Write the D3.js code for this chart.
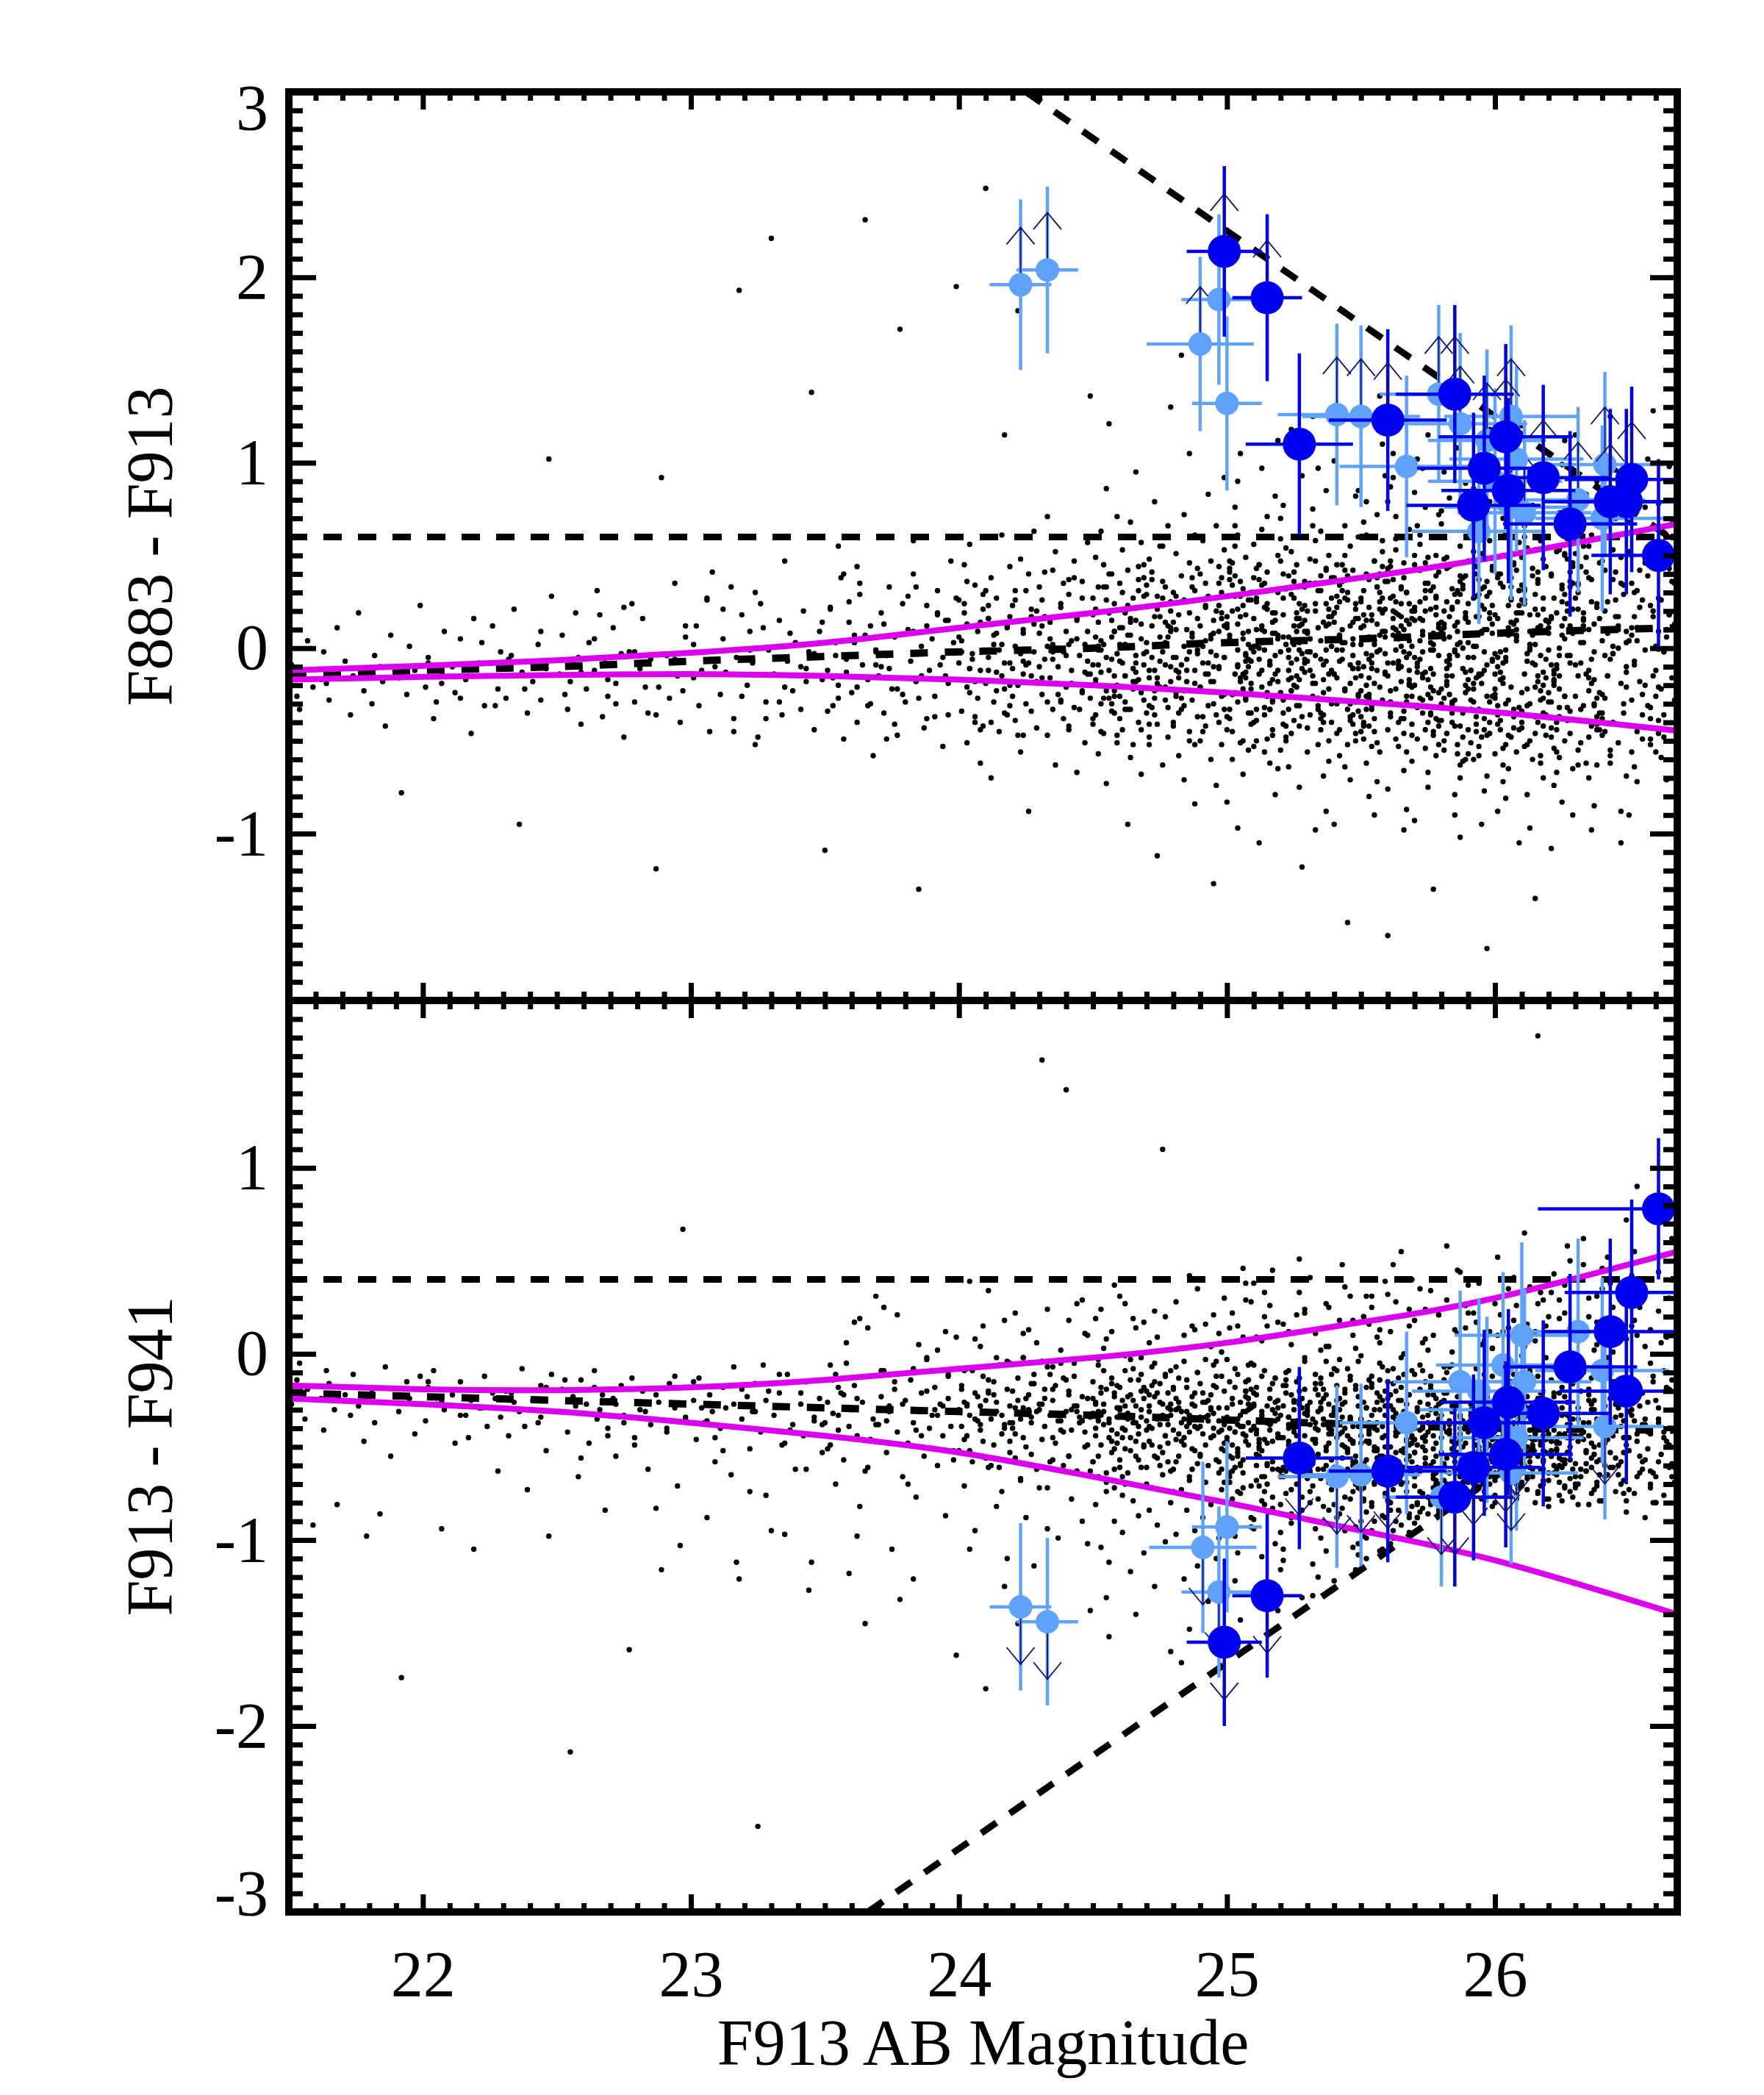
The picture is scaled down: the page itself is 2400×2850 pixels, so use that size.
<!DOCTYPE html>
<html>
<head>
<meta charset="utf-8">
<script src="https://cdn.jsdelivr.net/npm/d3@7"></script>
<style>
  body { margin: 0; background: #fff; }
</style>
</head>
<body>
<div id="chart"></div>
<script>
// Field sources: [F913 mag, F883-F913, F913-F941] (thinned)
const field = [
  [21.51,-.09,-.27],[21.53,-.26,-.14],[21.56,-.12,-.35],[21.57,.04,-.19],[21.59,-.21,-.92],[21.54,-.33,-.05],
  [21.62,-.17,-.24],[21.63,-.02,-.41],[21.65,-.28,-.16],[21.67,-.11,-.30],[21.68,.11,-.81],[21.64,-.19,-.09],
  [21.71,-.07,-.22],[21.73,-.36,-.33],[21.74,-.15,-.11],[21.76,.19,-.28],[21.78,-.23,-.47],[21.79,-.13,-.98],
  [21.81,-.30,-.19],[21.82,-.04,-.37],[21.85,-.18,-.26],[21.86,-.42,-.07],[21.88,.07,-.55],[21.84,-.10,-.86],
  [21.91,-.16,-.31],[21.92,-.78,-1.74],[21.94,-.25,-.15],[21.95,.01,-.24],[21.97,-.12,-.43],[21.99,.23,-.12],
  [22.01,-.21,-.36],[22.02,-.05,-.18],[22.05,-.29,-.27],[22.07,-.14,-.94],[22.08,.09,-.30],[22.04,-.38,-.09],
  [22.11,-.10,-.22],[22.12,-.24,-.48],[22.14,.05,-.15],[22.16,-.17,-.33],[22.18,-.46,-.25],[22.19,.16,-1.05],
  [22.21,-.08,-.29],[22.23,-.31,-.12],[22.24,-.15,-.39],[22.26,.12,-.21],[22.28,-.22,-.63],[22.29,-.02,-.34],
  [22.31,-.27,-.20],[22.32,-.06,-.44],[22.34,.21,-.26],[22.36,-.95,-.31],[22.37,-.13,-.08],[22.39,-.35,-.73],
  [22.41,-.18,-.25],[22.43,.02,-.37],[22.44,-.28,-.17],[22.46,-.09,-.52],[22.47,1.02,-.98],[22.48,.28,-.11],
  [22.51,-.14,-.31],[22.52,.07,-.19],[22.54,-.33,-.42],[22.55,-.18,-2.14],[22.57,.19,-.28],[22.58,-.05,-.66],[22.59,-.41,-.14],
  [22.61,-.22,-.27],[22.62,.03,-.48],[22.64,-.12,-.09],[22.65,.31,-.35],[22.67,-.37,-.22],[22.68,-.08,-.84],[22.69,-.26,-.40],
  [22.71,.11,-.24],[22.72,-.19,-.55],[22.74,-.03,-.17],[22.75,-.48,-.33],[22.77,-.02,-1.59],[22.78,.24,-.13],[22.79,-.29,-.45],
  [22.81,-.11,-.30],[22.82,.16,-.20],[22.84,-.35,-.62],[22.85,-.06,-.38],[22.87,-1.19,-.83],[22.88,-.21,-.26],[22.89,.92,-1.16],
  [22.91,-.04,-.42],[22.92,-.27,-.16],[22.94,.35,-.29],[22.95,-.15,-.71],[22.97,-.23,.67],[22.98,.06,-.34],[22.96,-.40,-1.03],
  [23.01,-.16,-.25],[23.02,.12,-.46],[23.03,-.31,-.13],[23.05,-.02,-.37],[23.06,.27,-.88],[23.07,-.45,-.22],[23.09,-.10,-.58],[23.08,.41,-.31],
  [23.11,-.25,-.40],[23.12,.05,-.18],[23.13,-.13,-.29],[23.15,.33,-.65],[23.16,-.38,-.07],[23.17,-.05,-1.12],[23.18,1.93,-1.21],[23.19,.18,-.35],
  [23.21,-.20,-.23],[23.22,.09,-.51],[23.23,-.08,-.31],[23.24,-.52,-.16],[23.25,-.48,-2.54],[23.26,.24,-.42],[23.28,-.29,-.76],[23.29,-.01,-.20],
  [23.30,2.21,-.95],[23.31,-.14,-.33],[23.33,.15,-.21],[23.34,-.36,-.49],[23.35,.47,-.97],[23.36,-.07,-.11],[23.38,-.23,-.38],[23.39,.03,-.62],
  [23.41,-.33,-.27],[23.42,.20,-.44],[23.43,-.11,-.15],[23.44,-.02,-1.27],[23.45,1.38,-1.12],[23.46,-.44,-.36],[23.48,.09,-.24],[23.49,-.17,-.53],
  [23.50,-1.09,-.37],[23.51,-.12,-.26],[23.52,.21,-.49],[23.53,-.31,-.14],[23.54,.03,-.70],[23.55,-.20,-.33],[23.56,.38,-.21],[23.57,-.49,-.57],[23.58,-.06,-.05],[23.59,.14,-1.18],[23.55,.55,-.41],
  [23.60,-.24,-.30],[23.61,.07,-.17],[23.62,-.40,-.44],[23.63,.29,-.82],[23.64,-.09,-.26],[23.65,2.31,-1.45],[23.66,-.17,-.61],[23.67,.12,-.12],[23.68,-.58,-.35],[23.69,-.01,-.47],[23.62,.44,-.98],
  [23.70,-.15,-.38],[23.71,.19,-.23],[23.72,-.35,-.09],[23.73,-.04,-.53],[23.74,.33,-.31],[23.75,-.22,-1.05],[23.76,.06,-.19],[23.77,-.47,-.42],[23.78,1.72,-1.32],[23.79,.24,-.66],[23.74,-.11,-.28],
  [23.80,-.29,-.25],[23.81,.10,-.48],[23.82,-.07,-.14],[23.83,.40,-.37],[23.84,-.18,-.77],[23.85,-1.30,-.31],[23.86,.01,-.21],[23.87,-.43,-.55],[23.88,.23,-.02],[23.89,-.12,-.40],[23.83,.58,-1.21],
  [23.90,.05,-.33],[23.91,-.26,-.18],[23.92,.31,-.60],[23.93,-.09,-.27],[23.94,-.53,-.44],[23.95,.15,-.87],[23.96,-.19,-.11],[23.97,.47,-.39],[23.98,-.02,-.52],[23.99,1.95,-1.62],[23.96,-.36,-.24],
  [24.00,-.08,-.30],[24.00,.26,-.52],[24.01,-.34,-.17],[24.01,.04,-.39],[24.02,-.17,-.71],[24.02,.45,-.26],[24.03,-.51,-.44],[24.03,.13,-.08],[24.04,.56,-1.05],[24.04,-.24,-.33],[24.05,-.03,-.58],[24.06,.34,-.21],[24.06,-.40,-.95],[24.07,.09,-.36],[24.08,-.62,-.28],[24.08,-.12,.04],[24.09,.21,-.47],[24.10,2.48,-1.80],
  [24.10,-.19,-.25],[24.11,.16,-.61],[24.11,-.05,-.14],[24.12,-.70,-.60],[24.12,.38,-.35],[24.13,-.29,-.49],[24.13,.07,-.22],[24.14,-.13,-.82],[24.14,.27,-.31],[24.15,-.45,-.06],[24.16,.02,-.43],[24.16,.61,-.74],[24.17,1.15,-1.25],[24.17,-.22,-.38],[24.18,.12,-.19],[24.18,-.36,-1.10],[24.19,-.08,-.53],[24.19,.44,-.28],
  [24.20,-.11,-.40],[24.20,.23,-.20],[24.21,-.39,-.56],[24.21,.01,-.29],[24.22,1.82,-1.45],[24.22,-.20,-.13],[24.23,.48,-.67],[24.23,-.56,-.35],[24.24,.10,-.45],[24.24,-.07,-.02],[24.25,.31,-.88],[24.25,-.30,-.24],[24.26,-.88,-.30],[24.27,.17,-.54],[24.27,-.15,-.37],[24.28,.63,-1.14],[24.28,-.02,-.16],[24.29,-.43,-.62],
  [24.30,.08,-.27],[24.31,.26,1.58],[24.31,-.25,-.46],[24.32,-.06,-.19],[24.32,.41,-.39],[24.33,-.47,-.72],[24.33,.71,-.94],[24.34,.14,-.11],[24.34,-.16,-.33],[24.35,-.33,-.57],[24.35,.02,-.25],[24.36,.52,-.48],[24.36,-.63,-.17],[24.37,-.10,-.99],[24.38,.22,-.36],[24.38,-.28,-.05],[24.39,.35,-.60],[24.39,-.02,-.42],
  [24.40,.09,1.42],[24.40,-.21,-.31],[24.41,.29,-.55],[24.41,-.44,-.20],[24.42,.04,-.41],[24.42,-.12,-.78],[24.43,.47,-.28],[24.43,-.32,-.12],[24.44,-.67,-.31],[24.44,.16,-.63],[24.45,-.04,-.37],[24.46,.36,-.90],[24.46,-.23,-.23],[24.47,.02,.11],[24.47,-.51,-.50],[24.48,.57,-1.02],[24.49,1.36,-1.38],[24.49,-.14,-.34],
  [24.50,-.09,-.32],[24.50,.27,-.58],[24.50,-.38,-.15],[24.51,.06,-.44],[24.51,-.19,-.27],[24.51,.49,-.81],[24.52,-.57,-.36],[24.52,.14,-.06],[24.52,-.01,-.66],[24.53,-.30,-.21],
  [24.53,.63,-1.04],[24.53,-.13,-.49],[24.54,.33,-.31],[24.54,-.46,.03],[24.54,.02,-.38],[24.55,-.23,-.74],[24.55,.86,-1.31],[24.55,-.73,-.19],[24.56,1.21,-1.52],[24.56,.19,-.45],
  [24.57,-.06,-.53],[24.57,.40,-.13],[24.57,-.34,-.41],[24.58,.09,-.90],[24.58,-.15,-.23],[24.58,.24,-.62],[24.59,-.51,-.34],[24.59,.71,-.17],[24.59,-.03,-.48],[24.56,-.27,-1.12],
  [24.60,.11,-.29],[24.60,-.26,-.57],[24.60,.35,-.18],[24.61,-.08,-.40],[24.61,.53,-.96],[24.61,-.44,-.25],[24.62,.20,-.70],[24.62,-.15,-.09],[24.62,.02,-.51],[24.63,-.95,-.35],
  [24.63,.42,-.33],[24.63,-.33,-.64],[24.64,.07,-.22],[24.64,-.59,-.45],[24.64,.68,-1.17],[24.65,-.11,.19],[24.65,.27,-.79],[24.65,-.22,-.37],[24.66,.95,-1.40],[24.66,-.04,-.28],
  [24.66,.15,-.55],[24.67,-.40,-.14],[24.67,.31,-.43],[24.67,-.17,-.87],[24.68,.57,-.61],[24.68,-.68,-.30],[24.68,.05,-.02],[24.69,-.28,-.49],[24.69,.38,-.24],[24.69,-.09,-1.07],
  [24.70,.03,-.36],[24.70,-.35,-.61],[24.70,.29,-.20],[24.71,-.16,-.47],[24.71,.48,-.84],[24.71,-.52,-.31],[24.72,.12,-.07],[24.72,-.05,-.72],[24.72,.37,-.40],[24.73,-.27,-.23],
  [24.73,.79,-1.25],[24.73,-.12,-.55],[24.74,.21,-.34],[24.74,-1.12,-.21],[24.74,-.41,-.92],[24.75,.06,-.16],[24.75,.55,-.50],[24.75,-.21,-.38],[24.76,.55,1.10],[24.76,-.02,-.65],
  [24.76,-.63,-.27],[24.77,.33,-1.01],[24.77,-.09,-.44],[24.77,.14,-.11],[24.78,-.32,-.58],[24.78,.66,-.29],[24.78,-.48,-.48],[24.79,1.30,-1.60],[24.79,.09,-.33],[24.79,-.18,-.80],
  [24.80,-.05,-.41],[24.80,.30,-.19],[24.80,-.42,-.62],[24.81,.10,-.30],[24.81,-.24,-.97],[24.81,.51,-.46],[24.82,-.58,-.13],[24.82,.18,-.55],[24.82,-.13,-.26],[24.83,1.58,-1.66],
  [24.83,.39,-.73],[24.83,-.33,-.37],[24.84,.01,-.04],[24.84,.72,-1.21],[24.84,-.71,-.49],[24.85,-.18,-.31],[24.85,.25,-.84],[24.85,-.06,-.18],[24.86,.46,-.42],[24.86,-.50,-.68],
  [24.86,1.05,-1.48],[24.87,.08,-.23],[24.87,-.28,-.51],[24.87,.33,.15],[24.88,-.12,-.39],[24.88,-.84,-.28],[24.88,.61,-.95],[24.89,.16,-.59],[24.89,-.37,-.10],[24.89,-.01,-1.14],
  [24.90,.12,-.34],[24.90,-.21,-.54],[24.90,.40,-.16],[24.91,-.08,-.43],[24.91,.58,-.88],[24.91,-.45,-.26],[24.92,.22,-.69],[24.92,-.14,-.03],[24.92,.04,-.49],[24.93,-.31,-.36],
  [24.93,.83,-1.33],[24.93,.28,-.60],[24.94,-.60,-.22],[24.94,-.02,-.81],[24.94,.47,-.45],[24.95,-.18,.21],[24.95,.15,-.32],[24.95,-1.27,-.40],[24.96,-.74,-.57],[24.96,.66,-1.10],
  [24.96,-.36,-.18],[24.97,.09,-.64],[24.97,-.10,-.29],[24.97,.35,-.99],[24.98,-.52,-.41],[24.98,.19,-.12],[24.98,-.26,-.73],[24.99,.53,-.38],[24.99,-.05,-.52],[24.99,.92,-1.24],
  [25.07,-.07,-.31],[25.02,.34,-.63],[25.09,-.41,-.19],[25.00,.11,-.47],[25.05,-.16,-.75],[25.03,.55,-.98],[25.08,-.55,-.14],[25.01,.05,-.40],[25.06,.23,.09],[25.04,-.29,-.55],
  [25.03,.76,-1.22],[25.08,-.10,-.27],[25.01,.41,-.69],[25.06,-.68,-.43],[25.00,.17,-.34],[25.09,-.22,-.88],[25.04,.61,-1.07],[25.07,-.03,-.20],[25.02,-.45,-.49],[25.05,.28,-.59],
  [25.05,1.05,-1.43],[25.00,-.83,-.03],[25.06,.08,-.64],[25.09,-.35,.28],[25.02,.20,-.24],[25.07,-.13,-.44],[25.01,.47,-.80],[25.04,-.97,-.35],[25.08,.02,-.37],[25.03,-.24,-.61],
  [25.01,.37,-.15],[25.06,-.50,-.72],[25.04,.13,-.51],[25.08,-.06,-.06],[25.03,.66,-.42],[25.00,-.37,-.29],[25.09,.26,-.93],[25.05,-.18,-.39],[25.07,.49,-.23],[25.02,-.60,-.56],[25.04,.90,-.74],[25.07,-.27,.38],
  [25.19,.07,-.35],[25.14,-.32,-.66],[25.10,.38,-.21],[25.12,-.14,-.50],[25.17,.19,-.83],[25.15,-.49,-.28],[25.13,.64,-1.09],[25.18,-.04,-.13],[25.11,.25,-.54],[25.16,-.62,-.38],
  [25.12,.00,-.71],[25.19,.50,-.43],[25.15,-.26,.15],[25.17,.14,-.30],[25.11,-.39,-.60],[25.18,.82,-1.26],[25.16,-.09,-.24],[25.10,.30,-.94],[25.14,-.56,-.46],[25.13,.10,-.12],
  [25.16,-.19,-.41],[25.11,.43,-.68],[25.18,-.79,-.26],[25.13,.03,-.52],[25.19,1.12,-1.38],[25.14,-.01,.33],[25.10,.56,-.89],[25.12,-1.05,-.55],[25.15,.21,-.37],[25.17,-.28,-.77],
  [25.14,.35,-.09],[25.17,-.44,-.47],[25.13,-.12,-.33],[25.15,.71,-.60],[25.18,.08,-1.02],[25.11,-.33,-.18],[25.12,.45,-.48],[25.19,-.65,-.62],[25.10,.16,-.27],[25.16,-.07,-.85],[25.13,.97,-.79],[25.17,-.17,.45],
  [25.28,-.11,-.29],[25.25,.27,-.57],[25.22,-.42,-.17],[25.21,.06,-.45],[25.24,.52,-.91],[25.26,-.21,-.70],[25.27,.16,-.25],[25.23,-.64,-.38],[25.29,.36,-.04],[25.20,-.02,-.63],
  [25.20,.70,-1.16],[25.23,-.33,-.49],[25.27,.12,-.20],[25.24,-.16,-.86],[25.26,.45,-.39],[25.22,-.50,-.10],[25.25,.02,-.53],[25.29,.23,-.32],[25.21,-.28,-.66],[25.28,.93,-1.31],
  [25.27,-.75,-.27],[25.22,.32,-.75],[25.29,-.08,.22],[25.20,.59,-.96],[25.25,-.39,-.42],[25.23,-.01,-.34],[25.28,-1.18,-.59],[25.21,.77,-1.11],[25.26,.19,-.15],[25.24,-.23,-.51],
  [25.25,.41,-.26],[25.20,-.55,-.81],[25.26,.09,-.44],[25.29,-.13,-.02],[25.22,.54,-.63],[25.27,-.31,-.36],[25.21,.27,-1.05],[25.24,-.46,-.22],[25.28,.13,-.57],[25.23,-.05,-.40],[25.24,1.18,-.88],[25.27,.03,.51],
  [25.31,.05,-.38],[25.36,-.36,-.62],[25.34,.31,-.22],[25.38,-.14,-.48],[25.33,.58,-.94],[25.30,-.56,-.30],[25.39,.17,-.73],[25.35,-.06,-.13],[25.37,.42,-.52],[25.32,-.26,-.35],
  [25.32,.75,-1.13],[25.39,.01,-.43],[25.35,-.44,-.67],[25.37,.24,.04],[25.31,-.12,-.56],[25.38,.50,-.84],[25.36,-.69,-.24],[25.30,.09,-.33],[25.34,-.31,-.78],[25.33,.35,-.46],
  [25.34,.97,-1.20],[25.37,-.88,-.50],[25.33,-.19,-.19],[25.35,.63,-.99],[25.38,.13,.25],[25.31,-.02,-.64],[25.32,1.25,-1.30],[25.39,-.40,-.41],[25.30,.20,-.28],[25.36,-.24,-.90],
  [25.39,.38,-.11],[25.34,-.52,-.54],[25.30,-.07,-.31],[25.32,.66,-.71],[25.37,.12,-1.06],[25.35,-.35,-.16],[25.33,.47,-.40],[25.38,-.61,-.69],[25.31,.05,-.26],[25.36,-.17,-.82],[25.33,-.98,-.37],[25.37,.85,-.60],
  [25.46,-.09,-.35],[25.41,.28,-.66],[25.48,-.46,-.19],[25.43,.10,-.49],[25.49,.60,-1.02],[25.44,-.22,-.77],[25.40,.19,-.29],[25.42,-.58,-.43],[25.45,.39,-.08],[25.47,-.04,-.58],
  [25.48,.82,-1.16],[25.45,-.33,-.51],[25.42,.07,-.24],[25.41,-.16,-.88],[25.44,.50,-.40],[25.46,-.71,-.14],[25.47,.14,-.60],[25.43,.31,-.34],[25.49,-.25,-.72],[25.40,1.01,-1.22],
  [25.40,-.95,-.31],[25.43,.45,-.83],[25.47,-.11,.18],[25.44,.66,-.95],[25.46,-.39,-.46],[25.42,.04,-.38],[25.45,-1.48,-.62],[25.49,.85,-1.08],[25.41,.22,-.17],[25.48,-.29,-.55],
  [25.43,.36,-.27],[25.48,-.50,-.93],[25.41,-.01,-.45],[25.46,.55,-.12],[25.40,-.14,-.67],[25.49,.16,-.39],[25.44,-.64,-.26],[25.47,.42,-.74],[25.42,-.07,-.03],[25.45,.26,-.52],[25.43,.03,.48],[25.47,-.36,-1.04],
  [25.55,.02,-.40],[25.50,-.37,-.67],[25.56,.33,-.21],[25.59,-.13,-.50],[25.52,.61,-.99],[25.57,-.56,-.30],[25.51,.18,-.78],[25.54,-.04,-.12],[25.58,.44,-.55],[25.53,-.27,-.38],
  [25.52,.79,-1.10],[25.59,.06,-.44],[25.55,-.45,-.70],[25.57,.25,.06],[25.51,-.10,-.59],[25.58,.52,-.87],[25.56,-.72,-.26],[25.50,.11,-.35],[25.54,-.31,-.82],[25.53,.37,-.47],
  [25.58,1.10,-1.05],[25.55,-.90,-.52],[25.52,-.20,-.18],[25.51,.68,-.98],[25.54,.15,.31],[25.56,-.02,-.64],[25.57,1.36,-1.06],[25.53,-.42,-.43],[25.59,.21,-.28],[25.50,-.15,-.90],
  [25.57,.30,-.14],[25.52,-.62,-.57],[25.59,.09,-.33],[25.50,-.23,-.01],[25.55,.47,-.62],[25.53,-.06,-.48],[25.58,.58,-.25],[25.51,-.49,-.79],[25.56,.13,-.41],[25.54,-.33,-.16],
  [25.50,.27,-.73],[25.53,-.80,-.37],[25.57,.40,-.05],[25.54,-.11,-.95],[25.56,.72,-.51],[25.52,-.26,-.29],[25.55,.04,-.69],[25.59,.93,-.88],[25.51,-.40,.20],[25.58,.19,-.45],
  [25.64,-.07,-.37],[25.67,.30,-.69],[25.63,-.49,-.20],[25.65,.12,-.52],[25.68,.64,-.96],[25.61,-.23,-.80],[25.62,.20,-.30],[25.69,-.61,-.45],[25.60,.41,-.09],[25.66,-.02,-.61],
  [25.61,.87,-1.02],[25.66,-.34,-.53],[25.64,.08,-.25],[25.68,-.17,-.86],[25.63,.53,-.42],[25.60,-.76,-.15],[25.69,.16,-.63],[25.65,.33,-.35],[25.67,-.26,-.74],[25.62,1.05,-.99],
  [25.66,-.98,-.33],[25.61,.47,-.84],[25.68,-.12,.24],[25.63,.71,-.90],[25.69,-.41,-.48],[25.64,.05,-.40],[25.60,-1.55,-.65],[25.62,.92,-.95],[25.65,.24,-.18],[25.67,-.29,-.27],
  [25.69,.01,.40],[25.64,-.53,-.58],[25.60,.36,-.78],[25.62,-.08,-.08],[25.67,.15,-.47],[25.65,-.38,-.92],[25.63,.59,-.32],[25.68,-.19,-.55],[25.61,.27,.12],[25.66,-.66,-.39],
  [25.63,.10,-.67],[25.68,-.03,-.22],[25.61,.44,-.50],[25.66,-.46,-.11],[25.60,.79,-.71],[25.69,-.21,-.44],[25.64,.18,-.84],[25.67,-.87,-.27],[25.62,.37,-.60],[25.65,-.10,.55],
  [25.72,.04,-.41],[25.79,-.39,-.70],[25.75,.35,-.22],[25.77,-.14,-.51],[25.71,.66,-.88],[25.78,-.58,-.32],[25.76,.21,-.79],[25.70,-.05,-.11],[25.74,.46,-.56],[25.73,-.28,-.39],
  [25.70,.84,-.91],[25.73,.07,-.45],[25.77,-.47,-.72],[25.74,.27,.08],[25.76,-.11,-.60],[25.72,.56,-.85],[25.75,-.75,-.27],[25.79,.13,-.36],[25.71,-.32,-.81],[25.78,.39,-.48],
  [25.75,1.15,-.86],[25.70,-.93,-.53],[25.76,-.21,-.19],[25.79,.72,-.84],[25.72,.16,.35],[25.77,-.01,-.65],[25.71,1.02,-.80],[25.74,-.44,-.44],[25.78,.22,-.29],[25.73,-.16,-.83],
  [25.74,.31,-.15],[25.77,-1.30,-.58],[25.73,.09,-.34],[25.75,-.25,.02],[25.78,.50,-.64],[25.71,-.08,-.49],[25.72,.61,-.26],[25.79,-.52,-.76],[25.70,.15,-.40],[25.76,-.35,-.17],
  [25.78,.28,-.70],[25.75,-.67,-.37],[25.72,.42,-.06],[25.71,-.13,-.88],[25.74,.76,-.52],[25.76,-.27,-.30],[25.77,.02,-.67],[25.73,.97,-.75],[25.79,-.42,.21],[25.70,.20,-.46],
  [25.83,-.06,-.38],[25.88,.32,-.70],[25.81,-.50,-.21],[25.86,.14,-.53],[25.80,.67,-.82],[25.89,-.24,-.78],[25.84,.22,-.31],[25.87,-.63,-.46],[25.82,.43,-.10],[25.85,-.01,-.62],
  [25.89,.89,-.80],[25.84,-.35,-.54],[25.80,.09,-.26],[25.82,-.18,-.79],[25.87,.55,-.43],[25.85,-.79,-.16],[25.83,.17,-.64],[25.88,.34,-.36],[25.81,-.27,-.75],[25.86,1.08,-.77],
  [25.87,-1.02,-.34],[25.82,.49,-.76],[25.89,-.13,.26],[25.80,.74,-.74],[25.85,-.42,-.49],[25.83,.06,-.41],[25.88,-.61,-.66],[25.81,.95,-.73],[25.86,.25,-.19],[25.84,-.30,-.28],
  [25.86,.02,.45],[25.81,-.55,-.59],[25.88,.38,-.69],[25.83,-.09,-.07],[25.89,.16,-.48],[25.84,-.40,-.80],[25.80,.60,-.33],[25.82,-.20,-.56],[25.85,.29,.13],[25.87,-.70,-.40],
  [25.81,.11,-.68],[25.86,-.04,-.23],[25.84,.45,-.51],[25.88,-.48,-.12],[25.83,.81,-.64],[25.80,-.22,-.45],[25.89,.19,-.77],[25.85,-.90,-.28],[25.87,.39,-.61],[25.82,-.11,.58],
  [25.90,.03,-.42],[25.93,-.41,-.71],[25.97,.36,-.23],[25.94,-.15,-.52],[25.96,.69,-.74],[25.92,-.60,-.33],[25.95,.23,-.70],[25.99,-.07,-.12],[25.91,.47,-.57],[25.98,-.29,-.40],
  [25.92,.86,-.70],[25.99,.08,-.46],[25.95,-.48,-.68],[25.97,.28,.10],[25.91,-.12,-.61],[25.98,.58,-.66],[25.96,-.77,-.28],[25.90,.14,-.37],[25.94,-.33,-.65],[25.93,.40,-.49],
  [25.98,1.18,-.62],[25.95,-.95,-.54],[25.92,-.22,-.20],[25.91,.75,-.63],[25.94,.17,.38],[25.96,-.02,-.66],[25.97,-1.62,-.45],[25.93,-.45,-.45],[25.99,.23,-.30],[25.90,-.17,-.69],
  [25.95,.32,-.16],[25.90,-.57,-.59],[25.96,.10,-.35],[25.99,-.26,.03],[25.92,.52,-.55],[25.97,-.09,-.50],[25.91,.63,-.27],[25.94,-.53,-.72],[25.98,.16,-.41],[25.93,-.37,-.18],
  [25.94,.29,-.64],[25.97,-.69,-.38],[25.93,.44,-.07],[25.95,-.14,-.70],[25.98,.79,-.49],[25.91,-.28,-.31],[25.92,.01,-.62],[25.99,1.00,-.58],[25.90,-.44,.22],[25.96,.21,-.47],
  [26.01,-.05,-.39],[26.06,.33,-.62],[26.04,-.52,-.22],[26.08,.15,-.54],[26.03,.70,-.55],[26.00,-.25,-.60],[26.09,.23,-.32],[26.05,-.65,-.47],[26.07,.45,-.11],[26.02,-.02,-.63],
  [26.06,.92,-.48],[26.01,-.36,-.55],[26.08,.10,-.27],[26.03,-.19,-.66],[26.09,.57,-.44],[26.04,-.81,-.17],[26.00,.18,-.64],[26.02,.35,-.37],[26.05,-.28,-.58],[26.07,1.10,-.52],
  [26.09,-1.05,-.35],[26.04,.50,-.60],[26.00,-.14,.27],[26.02,.76,-.57],[26.07,-.43,-.50],[26.05,.07,-.42],[26.03,-.63,-.61],[26.08,.97,-.50],[26.01,-.31,.52],[26.06,.26,-.20],
  [26.08,.04,-.70],[26.05,-.47,-.29],[26.02,.40,-.05],[26.01,-.10,-.48],[26.04,.62,-.36],[26.06,-.21,-.74],[26.07,.13,.18],[26.03,-.72,-.42],[26.09,.31,-.60],[26.00,-.03,-.25],
  [26.07,.83,-.67],[26.02,-.39,-.09],[26.09,.19,-.51],[26.00,-.57,-.68],[26.05,.49,.35],[26.03,-.16,-.33],[26.08,.06,-.78],[26.01,-.88,-.45],[26.06,.38,-.15],[26.04,-.07,-.56],
  [26.15,.02,-.43],[26.10,-.43,-.64],[26.16,.37,-.24],[26.19,-.16,-.53],[26.12,.72,-.50],[26.17,-.62,-.34],[26.11,.24,-.60],[26.14,-.08,-.13],[26.18,.48,-.58],[26.13,-.30,-.41],
  [26.14,.88,-.46],[26.17,.09,-.47],[26.13,-.50,-.61],[26.15,.29,.12],[26.18,-.13,-.62],[26.11,.60,-.52],[26.12,-.79,-.29],[26.19,.15,-.38],[26.10,-.34,-.56],[26.16,.41,1.71],
  [26.10,1.20,-.45],[26.13,-.97,-.55],[26.17,-.23,-.21],[26.14,.77,-.49],[26.16,.18,.40],[26.12,-.03,-.67],[26.15,-1.35,-.46],[26.19,-.47,-.46],[26.11,.31,.65],[26.18,-.20,-.31],
  [26.12,.54,-.73],[26.19,-.06,-.02],[26.15,.21,-.39],[26.17,-.58,-.71],[26.11,.66,-.19],[26.18,-.27,-.52],[26.16,.11,.27],[26.10,-.40,-.36],[26.14,.43,-.66],[26.13,-.01,-.10],
  [26.13,.95,-.58],[26.18,-.70,-.44],[26.11,.26,.04],[26.16,-.15,-.75],[26.10,.34,-.28],[26.19,-.36,.15],[26.14,.07,-.50],[26.17,.58,-.62],[26.12,-.52,-.23],[26.15,-.09,-.40],
  [26.28,-.04,-.40],[26.25,.34,-.57],[26.22,-.54,-.23],[26.21,.16,-.55],[26.24,.73,-.48],[26.26,-.26,-.59],[26.27,.24,-.33],[26.23,-.67,-.48],[26.29,.46,-.12],[26.20,-.01,-.64],
  [26.29,.94,-.45],[26.24,-.37,-.56],[26.20,.11,-.28],[26.22,-.20,-.60],[26.27,.59,-.45],[26.25,-.83,-.18],[26.23,.19,-.65],[26.28,.36,-.38],[26.21,-.29,-.52],[26.26,1.12,-.43],
  [26.21,-1.08,-.36],[26.26,.51,-.57],[26.24,-.15,.29],[26.28,.78,-.50],[26.23,-.44,-.51],[26.20,.08,-.43],[26.29,-.65,-.62],[26.25,.99,-.44],[26.27,-.32,.58],[26.22,.27,-.21],
  [26.26,.05,-.72],[26.21,-.48,-.30],[26.28,.41,-.04],[26.23,-.11,-.47],[26.29,.64,-.35],[26.24,-.22,-.76],[26.20,.14,.20],[26.22,-.74,-.41],[26.25,.32,-.61],[26.27,-.04,-.26],
  [26.20,.85,-.68],[26.23,-.40,-.08],[26.27,.20,-.53],[26.24,-.59,-.69],[26.26,.50,.37],[26.22,-.17,-.34],[26.25,.07,-.79],[26.29,-.90,-.44],[26.21,.39,-.14],[26.28,-.08,-.57],
  [26.32,.03,-.44],[26.39,-.44,-.65],[26.35,.38,-.25],[26.37,-.17,-.54],[26.31,.74,-.47],[26.38,-.63,-.35],[26.36,.25,-.61],[26.30,-.09,-.14],[26.34,.49,-.59],[26.33,-.31,-.42],
  [26.38,.90,-.40],[26.35,.10,.20],[26.32,-.51,-.62],[26.31,.30,.13],[26.34,-.14,-.63],[26.36,.61,-.30],[26.37,-.85,-.30],[26.33,.16,.48],[26.39,-.35,-.57],[26.30,1.15,-.44],
  [26.37,-.02,-.73],[26.32,.44,-.08],[26.39,-.24,-.49],[26.30,.67,-.66],[26.35,-.70,-.19],[26.33,.12,-.37],[26.38,-.41,.31],[26.31,.21,-.70],[26.36,-.06,-.27],[26.34,.83,-.53],
  [26.36,-.98,-.48],[26.31,.35,-.81],[26.38,-.27,.05],[26.33,.55,.62],[26.35,-.12,-.22],
  [26.44,-.03,-.41],[26.47,.35,-.58],[26.43,-.55,-.24],[26.45,.17,-.56],[26.48,.75,-.36],[26.41,-.27,-.60],[26.42,.25,.05],[26.49,-.69,-.49],[26.40,.47,.35],[26.46,.00,-.65],
  [26.45,.96,-.41],[26.40,-.38,-.57],[26.46,.12,-.29],[26.49,-.21,.72],[26.42,.60,-.46],[26.47,-.88,-.19],[26.41,.20,-.66],[26.44,.37,.25],[26.48,-.30,-.53],[26.43,1.25,-.40],
  [26.49,-.10,-.79],[26.44,.53,-.15],[26.40,-.47,-.38],[26.42,.08,.52],[26.47,-.19,-.70],[26.45,.70,-.27],[26.43,-.62,-.61],[26.48,.29,-.45],[26.41,-.04,.18],[26.46,.88,-.60],
  [26.47,-1.05,-.33],[26.42,-.15,-.02],[26.45,.41,-.74],[26.40,-.35,-.09],[26.49,.03,-.85],
  [26.50,.04,-.45],[26.53,-.45,-.66],[26.57,.39,-.26],[26.54,-.18,-.55],[26.56,.76,-.35],[26.52,-.64,-.36],[26.55,.26,-.62],[26.59,1.28,-.15],[26.51,.50,.42],[26.58,-.32,-.43],
  [26.56,.91,-.38],[26.51,.11,.15],[26.58,-.52,-.63],[26.53,.31,.90],[26.59,-.15,-.64],[26.54,.62,-.28],[26.50,-.90,-.31],[26.52,.17,.55],[26.55,-.36,-.58],[26.57,1.02,-.42],
  [26.52,-.07,-.75],[26.58,.45,-.05],[26.55,-.25,-.21],[26.50,.69,-.52],[26.56,-.01,-.88],[26.53,-.72,.10],[26.59,.20,-.12],[26.51,.07,.30],
  [26.63,-.02,-.42],[26.66,.36,-.59],[26.60,-.56,-.25],[26.65,.18,.30],[26.61,.78,-.37],[26.67,-.28,-.61],[26.62,.26,.06],[26.64,-.71,-.50],[26.66,.48,.62],[26.60,.01,-.66],
  [26.65,.98,-.40],[26.61,-.39,-.58],[26.67,.13,-.30],[26.62,-.22,.80],[26.64,.61,-.47],[26.60,-.12,-.80],[26.66,.67,-.14],[26.63,-.48,-.09],[26.61,.09,.44],[26.65,.40,-.19]
];

// Additional sources in the crowded core of the locus
const fieldCore = [
  [22.07,-.19,-.26],[22.33,-.04,-.21],[22.14,-.27,-.33],[22.46,-.11,-.18],[22.22,.03,-.29],[22.38,-.22,-.39],[22.02,-.08,-.15],[22.27,-.31,-.24],[22.44,.09,-.34],[22.17,-.15,-.45],
  [22.56,-.09,-.23],[22.83,-.21,-.31],[22.64,.05,-.18],[22.91,-.14,-.40],[22.72,-.30,-.27],[22.98,.12,-.35],[22.53,-.25,-.14],[22.79,-.02,-.49],[22.66,.18,-.30],[22.87,-.36,-.22],[22.59,-.13,-.56],[22.94,-.06,-.12],[22.75,.22,-.37],[22.69,-.17,-.44],
  [23.04,-.12,-.29],[23.37,.08,-.41],[23.19,-.26,-.19],[23.46,-.03,-.34],[23.12,.21,-.52],[23.28,-.38,-.25],[23.01,.02,-.15],[23.43,-.18,-.62],[23.24,.30,-.31],[23.09,-.07,-.45],[23.33,-.29,-.11],[23.49,.14,-.38],[23.16,-.45,-.27],[23.41,-.10,-.21],[23.06,.26,-.36],[23.22,-.01,-.74],[23.35,-.21,-.48],[23.27,.11,-.06],
  [23.53,-.16,-.32],[23.88,.12,-.20],[23.67,-.30,-.46],[23.94,-.05,-.28],[23.59,.25,-.39],[23.76,-.41,-.15],[23.98,.03,-.57],[23.62,-.21,-.24],[23.84,.33,-.41],[23.71,-.10,-.09],[23.51,-.34,-.51],
  [23.92,.19,-.33],[23.65,.07,-.63],[23.79,-.25,-.27],[23.57,.40,-.22],[23.86,-.15,-.44],[23.73,-.49,-.36],[23.96,.15,-.12],[23.69,-.02,-.38],[23.81,.28,-.70],[23.55,-.27,-.18],[23.91,-.37,-.30],
  [24.03,-.21,-.28],[24.08,.14,-.41],[24.01,-.02,-.19],[24.06,-.37,-.35],[24.09,.29,-.12],[24.04,-.11,-.52],[24.00,.06,-.31],[24.07,-.27,-.23],[24.02,.19,-.46],[24.05,-.06,-.09],[24.08,-.44,-.38],[24.03,.36,-.27],
  [24.16,-.15,-.33],[24.11,.23,-.21],[24.19,-.31,-.47],[24.13,.02,-.15],[24.17,-.08,-.40],[24.10,.31,-.56],[24.14,-.23,-.26],[24.18,.11,-.04],[24.12,-.40,-.32],[24.15,-.01,-.61],[24.19,.17,-.37],[24.11,-.12,-.20],
  [24.24,.08,-.29],[24.27,-.34,-.16],[24.21,.26,-.43],[24.29,-.18,-.31],[24.23,-.03,-.68],[24.26,.40,-.22],[24.20,-.26,-.37],[24.28,.13,-.11],[24.25,-.09,-.50],[24.22,-.47,-.25],[24.27,.21,-.34],[24.24,-.14,-.02],
  [24.37,-.25,-.36],[24.32,.17,-.24],[24.35,-.06,-.45],[24.30,.33,-.30],[24.39,-.38,-.13],[24.34,.05,-.58],[24.31,-.16,-.27],[24.38,.24,-.41],[24.33,-.29,-.07],[24.36,.00,-.33],[24.30,-.10,-.72],[24.35,.42,-.19],
  [24.42,-.19,-.30],[24.48,.09,-.49],[24.41,-.42,-.22],[24.46,.27,-.36],[24.40,-.04,-.14],[24.49,-.27,-.63],[24.44,.15,-.28],[24.47,-.13,-.42],[24.43,.38,-.05],[24.45,-.33,-.34],[24.41,.02,-.55],[24.48,-.07,-.24],
  [24.56,-.12,-.37],[24.51,.21,-.26],[24.58,-.35,-.51],[24.53,.04,-.18],[24.59,-.20,-.43],[24.52,.33,-.31],[24.55,-.05,-.64],[24.50,-.41,-.24],[24.57,.15,-.47],[24.54,-.27,-.09],[24.56,.40,-.35],
  [24.52,-.09,-.55],[24.58,.09,-.21],[24.51,-.17,-.40],[24.55,.26,-.69],[24.59,-.47,-.29],[24.53,-.01,-.33],[24.57,-.30,-.16],[24.50,.18,-.58],[24.54,.45,-.27],[24.58,-.23,-.72],[24.52,.01,-.03],
  [24.63,.07,-.32],[24.68,-.24,-.20],[24.61,.30,-.45],[24.66,-.13,-.37],[24.60,-.38,-.61],[24.64,.16,-.14],[24.69,-.03,-.50],[24.62,-.29,-.28],[24.67,.37,-.39],[24.65,-.18,-.08],[24.61,.11,-.66],
  [24.68,-.44,-.34],[24.63,.23,-.23],[24.66,-.08,-.47],[24.60,.02,-.30],[24.64,-.33,-.52],[24.69,.28,-.18],[24.62,-.15,-.41],[24.67,.44,-.57],[24.65,-.52,-.25],[24.61,-.21,-.76],[24.68,.13,-.11],
  [24.74,-.16,-.35],[24.79,.20,-.27],[24.72,-.32,-.49],[24.77,.03,-.12],[24.70,.34,-.41],[24.75,-.07,-.60],[24.71,-.41,-.22],[24.78,.12,-.38],[24.73,-.23,-.05],[24.76,.27,-.53],[24.79,-.10,-.30],
  [24.72,.41,-.17],[24.77,-.28,-.44],[24.70,-.02,-.70],[24.75,.17,-.26],[24.71,-.48,-.39],[24.78,.06,-.21],[24.74,-.19,-.56],[24.76,.36,-.33],[24.73,-.36,-.15],[24.79,.25,-.63],[24.71,-.12,-.28],
  [24.85,.10,-.39],[24.81,-.26,-.24],[24.88,.31,-.52],[24.83,-.09,-.31],[24.80,-.40,-.18],[24.86,.19,-.66],[24.82,-.16,-.43],[24.89,.02,-.10],[24.84,-.31,-.35],[24.87,.38,-.27],[24.81,-.05,-.58],
  [24.88,-.19,-.21],[24.83,.25,-.47],[24.86,-.45,-.33],[24.80,.14,-.74],[24.85,-.12,-.14],[24.89,.43,-.40],[24.82,-.35,-.29],[24.87,.06,-.62],[24.84,-.23,-.45],[24.81,.28,-.07],[24.86,-.02,-.37],
  [24.93,-.14,-.33],[24.97,.23,-.58],[24.91,-.37,-.21],[24.95,.08,-.44],[24.99,-.25,-.69],[24.92,.35,-.26],[24.96,-.04,-.12],[24.90,-.50,-.39],[24.98,.16,-.51],[24.94,-.18,-.29],[24.97,.44,-.36],
  [24.91,.01,-.77],[24.95,-.30,-.17],[24.99,.12,-.48],[24.93,-.08,-.25],[24.98,.30,-.62],[24.92,-.42,-.34],[24.96,.20,-.04],[24.90,-.21,-.55],[24.94,.05,-.30],[24.97,-.11,-.42],[24.99,-.33,-.20],
  [25.04,-.10,-.38],[25.08,.26,-.24],[25.01,-.33,-.55],[25.06,.05,-.31],[25.09,-.19,-.71],[25.03,.39,-.42],[25.07,-.04,-.15],[25.00,-.44,-.36],[25.05,.17,-.60],[25.02,-.25,-.27],
  [25.08,.09,-.49],[25.03,-.14,-.08],[25.06,.32,-.39],[25.01,-.38,-.66],[25.09,.00,-.29],[25.04,.21,-.53],[25.07,-.28,-.20],[25.00,.13,-.45],[25.05,-.51,-.33],[25.02,.46,-.78],
  [25.09,-.07,-.41],[25.06,-.22,-.57],[25.03,.28,-.18],[25.08,-.35,-.30],[25.01,.07,-.64],[25.05,.36,-.26],[25.07,-.16,-.47],[25.04,-.01,-.11],
  [25.13,.04,-.34],[25.17,-.29,-.58],[25.11,.27,-.22],[25.19,-.12,-.45],[25.15,.41,-.70],[25.10,-.40,-.28],[25.18,.15,-.13],[25.12,-.06,-.51],[25.16,-.33,-.37],[25.14,.22,-.81],
  [25.19,-.18,-.25],[25.11,.10,-.41],[25.17,-.47,-.62],[25.13,.34,-.31],[25.10,-.02,-.06],[25.15,-.24,-.48],[25.18,.19,-.36],[25.12,.45,-.55],[25.16,-.09,-.19],[25.14,-.36,-.74],
  [25.11,.01,-.43],[25.19,.30,-.29],[25.13,-.21,-.66],[25.17,.08,-.16],[25.10,-.53,-.39],[25.15,.24,-.59],[25.18,-.14,-.32],[25.12,.37,-.46],
  [25.26,-.15,-.36],[25.21,.18,-.61],[25.28,-.37,-.24],[25.23,.06,-.47],[25.29,.33,-.19],[25.24,-.08,-.73],[25.20,-.26,-.33],[25.27,.24,-.52],[25.22,-.48,-.14],[25.25,.12,-.40],
  [25.28,-.03,-.84],[25.21,.40,-.28],[25.26,-.31,-.57],[25.23,-.12,-.09],[25.29,.15,-.44],[25.20,.47,-.66],[25.25,-.20,-.30],[25.27,-.42,-.49],[25.22,.02,-.21],[25.24,.29,-.38],
  [25.26,-.06,-.62],[25.21,-.35,-.17],[25.28,.21,-.77],[25.23,-.17,-.34],[25.29,.09,-.54],[25.25,.36,-.25],[25.20,-.24,-.45],[25.27,-.01,-.13],
  [25.34,.11,-.41],[25.38,-.22,-.27],[25.31,.35,-.63],[25.36,-.09,-.35],[25.30,-.43,-.52],[25.33,.20,-.16],[25.39,-.30,-.70],[25.35,.04,-.30],[25.32,-.15,-.46],[25.37,.43,-.22],
  [25.31,-.36,-.80],[25.36,.14,-.38],[25.33,-.04,-.11],[25.39,.27,-.57],[25.34,-.27,-.31],[25.30,.08,-.67],[25.38,-.50,-.43],[25.35,.31,-.26],[25.32,-.19,-.59],[25.37,-.07,-.04],
  [25.33,.24,-.48],[25.39,-.12,-.33],[25.31,.48,-.74],[25.36,-.40,-.19],[25.30,-.02,-.54],[25.38,.17,-.40],[25.34,-.33,-.62],[25.35,.39,-.29],
  [25.47,-.11,-.39],[25.42,.25,-.64],[25.49,-.34,-.23],[25.44,.03,-.50],[25.40,.38,-.33],[25.46,-.19,-.78],[25.41,-.46,-.37],[25.48,.16,-.17],[25.43,-.06,-.56],[25.45,.30,-.44],
  [25.49,-.26,-.28],[25.42,.07,-.86],[25.47,-.41,-.47],[25.44,.42,-.21],[25.40,-.14,-.61],[25.46,.12,-.34],[25.41,-.30,-.09],[25.48,.21,-.70],[25.43,-.01,-.42],[25.45,-.52,-.53],
  [25.42,.34,-.30],[25.49,-.08,-.66],[25.44,-.23,-.19],[25.47,.05,-.48],[25.40,.19,-.81],[25.46,-.37,-.36],[25.41,.45,-.25],[25.48,-.16,-.58],
  [25.53,.06,-.43],[25.58,-.28,-.68],[25.51,.31,-.26],[25.56,-.12,-.52],[25.50,-.45,-.35],[25.54,.18,-.80],[25.59,-.03,-.20],[25.52,.40,-.47],[25.57,-.21,-.61],[25.55,-.38,-.30],
  [25.51,.12,-.72],[25.58,.27,-.39],[25.53,-.16,-.14],[25.56,-.51,-.56],[25.50,.02,-.44],[25.59,.36,-.66],[25.54,-.08,-.33],[25.52,-.33,-.85],[25.57,.21,-.23],[25.55,.47,-.50],
  [25.53,-.25,-.41],[25.58,.09,-.07],[25.51,-.42,-.62],[25.56,.33,-.37],[25.59,-.14,-.75],[25.52,.15,-.29],[25.57,-.01,-.55],[25.54,-.31,-.18],[25.50,.25,-.48],[25.55,-.19,-.90],
  [25.64,-.09,-.40],[25.68,.24,-.63],[25.61,-.35,-.28],[25.66,.10,-.51],[25.60,.43,-.79],[25.63,-.22,-.35],[25.69,-.47,-.58],[25.62,.16,-.16],[25.67,-.05,-.46],[25.65,.32,-.70],
  [25.61,-.29,-.22],[25.68,.04,-.88],[25.64,-.40,-.42],[25.66,.38,-.31],[25.60,-.15,-.60],[25.69,.20,-.09],[25.63,-.01,-.53],[25.67,-.56,-.37],[25.62,.28,-.73],[25.65,-.18,-.25],
  [25.68,.13,-.49],[25.61,-.37,-.66],[25.66,.46,-.40],[25.64,-.11,-.13],[25.69,-.26,-.82],[25.62,.07,-.34],[25.67,.30,-.57],[25.60,-.44,-.24],[25.65,.01,-.69],[25.63,.19,-.44],
  [25.76,.03,-.38],[25.71,-.31,-.61],[25.78,.27,-.24],[25.73,-.14,-.50],[25.70,.45,-.71],[25.75,-.40,-.33],[25.79,.11,-.86],[25.72,-.06,-.19],[25.77,-.23,-.44],[25.74,.35,-.56],
  [25.71,-.49,-.29],[25.78,.18,-.68],[25.73,-.02,-.40],[25.76,-.36,-.12],[25.70,.22,-.53],[25.75,-.17,-.77],[25.79,.41,-.35],[25.72,-.27,-.63],[25.77,.08,-.22],[25.74,-.54,-.47],
  [25.76,.31,-.81],[25.71,-.10,-.31],[25.78,-.38,-.55],[25.73,.15,-.09],[25.70,-.20,-.66],[25.75,.49,-.42],[25.79,-.04,-.27],[25.72,.25,-.74],[25.77,-.45,-.37],[25.74,-.13,-.59],
  [25.82,-.07,-.42],[25.87,.29,-.66],[25.80,-.39,-.26],[25.85,.12,-.55],[25.89,-.20,-.79],[25.83,.44,-.36],[25.86,-.52,-.48],[25.81,.05,-.14],[25.88,-.11,-.62],[25.84,.21,-.31],
  [25.80,-.30,-.72],[25.87,.36,-.45],[25.82,-.46,-.21],[25.85,-.02,-.58],[25.89,.17,-.38],[25.83,-.25,-.84],[25.86,.09,-.28],[25.81,.48,-.60],[25.88,-.35,-.50],[25.84,-.15,-.06],
  [25.82,.25,-.70],[25.87,-.42,-.33],[25.80,.14,-.53],[25.85,-.28,-.19],[25.89,.39,-.76],[25.83,-.04,-.43],[25.86,-.57,-.64],[25.81,.20,-.25],[25.88,.00,-.81],[25.84,.32,-.47],
  [25.95,.08,-.44],[25.91,-.33,-.67],[25.98,.30,-.27],[25.93,-.16,-.54],[25.90,.47,-.74],[25.96,-.44,-.35],[25.99,.13,-.82],[25.92,-.05,-.18],[25.97,-.26,-.48],[25.94,.37,-.60],
  [25.91,-.51,-.30],[25.98,.19,-.70],[25.93,.01,-.40],[25.96,-.38,-.11],[25.90,.24,-.57],[25.95,-.19,-.78],[25.99,.42,-.37],[25.92,-.29,-.64],[25.97,.10,-.23],[25.94,-.58,-.50],
  [25.96,.33,-.77],[25.91,-.12,-.33],[25.98,-.40,-.56],[25.93,.17,-.08],[25.90,-.22,-.68],[25.95,.51,-.43],[25.99,-.06,-.29],[25.92,.27,-.73],[25.97,-.47,-.39],[25.94,-.14,-.61],
  [26.04,-.05,-.41],[26.09,.31,-.65],[26.01,-.41,-.25],[26.06,.14,-.57],[26.00,-.22,-.76],[26.07,.46,-.37],[26.03,-.54,-.50],[26.08,.07,-.15],[26.02,-.13,-.63],[26.05,.23,-.32],
  [26.09,-.32,-.72],[26.01,.38,-.46],[26.06,-.48,-.22],[26.04,-.01,-.59],[26.08,.19,-.39],[26.00,-.27,-.80],[26.05,.11,-.28],[26.03,.50,-.61],[26.07,-.37,-.51],[26.02,-.17,-.07],
  [26.06,.27,-.69],[26.09,-.44,-.34],[26.01,.16,-.54],[26.04,-.30,-.20],[26.08,.42,-.75],[26.03,-.08,-.44],
  [26.13,.09,-.45],[26.18,-.35,-.68],[26.11,.32,-.28],[26.16,-.18,-.55],[26.10,.49,-.71],[26.15,-.46,-.36],[26.19,.15,-.78],[26.12,-.07,-.19],[26.17,-.28,-.49],[26.14,.39,-.62],
  [26.11,-.53,-.31],[26.18,.21,-.70],[26.13,.02,-.41],[26.16,-.40,-.12],[26.10,.26,-.58],[26.15,-.21,-.80],[26.19,.44,-.38],[26.12,-.31,-.65],[26.17,.12,-.24],[26.14,-.60,-.51],
  [26.16,.35,-.74],[26.11,-.14,-.34],[26.18,-.42,-.57],[26.13,.18,-.09],[26.10,-.24,-.69],[26.15,.53,-.43],
  [26.24,-.04,-.43],[26.28,.33,-.67],[26.21,-.43,-.27],[26.26,.16,-.59],[26.20,-.24,-.78],[26.27,.48,-.38],[26.23,-.56,-.52],[26.29,.08,-.16],[26.22,-.14,-.64],[26.25,.25,-.33],
  [26.28,-.34,-.74],[26.21,.40,-.47],[26.26,-.50,-.23],[26.24,.00,-.60],[26.29,.21,-.40],[26.20,-.29,-.82],[26.25,.12,-.29],[26.23,.52,-.62],[26.27,-.39,-.53],[26.22,-.18,-.08],
  [26.26,.29,-.71],[26.28,-.46,-.35],[26.21,.17,-.55],[26.24,-.32,-.21],[26.29,.44,-.77],[26.23,-.09,-.45],
  [26.33,.10,-.46],[26.38,-.37,-.69],[26.31,.34,-.29],[26.36,-.19,-.56],[26.30,.51,-.72],[26.35,-.48,-.37],[26.39,.16,-.79],[26.32,-.08,-.20],[26.37,-.30,-.50],[26.34,.41,-.63],
  [26.31,-.55,-.32],[26.38,.22,-.71],[26.33,.03,-.42],[26.36,-.42,-.13],[26.30,.27,-.59],[26.35,-.23,-.81],[26.39,.46,-.39],[26.32,-.33,-.66],[26.37,.13,-.25],[26.34,-.62,-.52],
  [26.36,.37,-.75],[26.31,-.15,-.35],[26.38,-.44,-.58],[26.33,.19,-.10],[26.30,-.26,-.70],[26.35,.55,-.44],
  [26.44,-.03,-.44],[26.48,.34,-.68],[26.41,-.45,-.28],[26.46,.17,-.60],[26.40,-.25,-.79],[26.47,.49,-.39],[26.43,-.58,-.53],[26.49,.09,-.17],[26.42,-.15,-.65],[26.45,.26,-.34],
  [26.48,-.35,-.75],[26.41,.42,-.48],[26.46,-.51,-.24],[26.44,.01,-.61],
  [26.53,.11,-.47],[26.58,-.38,-.70],[26.51,.35,-.30],[26.56,-.20,-.57],[26.50,.52,-.73],[26.55,-.49,-.38],[26.59,.17,-.80],[26.52,-.09,-.21],[26.57,-.31,-.51],[26.54,.42,-.64],
  [26.51,-.56,-.33],[26.58,.23,-.72],[26.53,.04,-.43],
  [26.63,-.02,-.45],[26.67,.35,-.69],[26.61,-.46,-.29],[26.65,.18,-.61],[26.60,-.26,-.80],[26.66,.50,-.40],[26.62,-.59,-.54],[26.64,.10,-.18],[26.66,-.16,-.66],[26.61,.27,-.35],
  [26.63,-.36,-.76],[26.65,.43,-.49]
];

// Sources sitting on the red side of the F913-F941 locus
const fieldUpper = [
  [23.58,-.13,.06],[23.83,.09,-.08],[23.66,-.31,.14],[23.92,.18,.02],[23.54,-.04,-.11],[23.77,-.22,.21],[23.99,.27,.09],[23.61,.03,.17],[23.88,-.38,-.03],[23.72,.13,.25],[23.95,-.15,.12],[23.52,.22,-.06],[23.69,-.09,.31],[23.85,-.27,.05],[23.63,.35,.19],
  [24.06,-.18,.08],[24.31,.12,-.04],[24.17,-.35,.18],[24.44,.05,.27],[24.02,.24,-.09],[24.26,-.08,.13],[24.38,-.29,.02],[24.11,.16,.34],[24.48,-.14,.10],[24.21,.31,.22],
  [24.35,-.02,-.07],[24.09,-.42,.15],[24.29,.20,.06],[24.46,-.24,.29],[24.14,.08,-.02],[24.41,.37,.18],[24.04,-.11,.39],[24.24,-.47,.11],[24.33,.01,.24],[24.19,-.20,-.05],
  [24.57,.06,.12],[24.83,-.27,.03],[24.62,.19,.27],[24.95,-.10,-.06],[24.51,-.36,.19],[24.74,.28,.09],[24.89,-.03,.35],[24.66,-.18,.14],[24.98,.38,.01],[24.53,-.45,.24],
  [24.79,.11,-.09],[24.60,-.07,.31],[24.92,.23,.16],[24.71,-.31,.06],[24.86,.02,.42],[24.55,.33,.08],[24.77,-.21,.20],[24.97,-.40,.11],[24.64,.14,-.03],[24.81,-.12,.28],
  [24.69,.45,.17],[24.94,.07,.04],[24.58,-.26,.37],[24.88,-.52,.13],[24.73,.17,.23],[24.99,-.05,.30],[24.62,-.33,-.01],[24.84,.26,.10],
  [25.04,-.09,.15],[25.38,.21,.04],[25.16,-.33,.26],[25.47,.02,.10],[25.09,.30,-.05],[25.27,-.17,.33],[25.42,-.44,.18],[25.13,.12,.07],[25.31,-.02,.41],[25.02,-.25,.22],
  [25.23,.39,.12],[25.49,-.11,-.04],[25.07,.18,.29],[25.35,-.38,.02],[25.19,.05,.17],[25.44,.27,.36],[25.11,-.50,.09],[25.29,-.06,.24],[25.40,.14,-.08],[25.01,.43,.14],
  [25.24,-.23,.05],[25.46,-.30,.31],[25.14,.09,.20],[25.33,.35,.11],[25.06,-.14,.46],[25.37,-.01,.27],[25.21,-.41,.16],[25.48,.24,.03],[25.10,.01,.38],[25.26,.16,.21],
  [25.57,.07,.13],[25.84,-.29,.01],[25.63,.25,.28],[25.96,-.12,.07],[25.51,-.41,.20],[25.77,.33,.10],[25.90,-.05,.37],[25.68,-.20,.15],[25.99,.44,.03],[25.54,-.53,.25],
  [25.81,.13,-.07],[25.60,-.08,.32],[25.93,.28,.17],[25.73,-.35,.06],[25.87,.03,.44],[25.56,.38,.09],[25.79,-.24,.21],[25.98,-.46,.12],[25.65,.17,-.02],[25.82,-.15,.29],
  [25.70,.50,.18],[25.95,.09,.05],[25.59,-.30,.39],[25.89,-.60,.14],[25.74,.20,.24],[25.52,-.03,.31],[25.66,-.38,.00],[25.86,.31,.11],[25.62,.11,.48],[25.92,-.19,.22],[25.76,-.01,.34],[25.53,.22,.16],
  [26.05,.08,.14],[26.37,-.31,.02],[26.18,.27,.29],[26.49,-.13,.08],[26.02,-.44,.21],[26.29,.35,.11],[26.43,-.06,.38],[26.12,-.22,.16],[26.56,.46,.04],[26.08,-.56,.26],
  [26.33,.15,-.06],[26.21,-.09,.33],[26.52,.30,.18],[26.15,-.37,.07],[26.40,.04,.46],[26.01,.40,.10],[26.26,-.26,.22],[26.58,-.49,.13],[26.10,.19,-.01],[26.35,-.16,.30],
  [26.24,.53,.19],[26.46,.10,.06],[26.07,-.33,.41],[26.31,-.63,.15],[26.54,.22,.25],[26.17,-.04,.33],[26.44,-.40,.01],[26.03,.33,.12],[26.28,.12,.50],[26.61,-.21,.23],
  [26.13,.00,.36],[26.38,.24,.17],[26.64,.06,.09],[26.22,-.12,.43],[26.51,-.28,.27]
];

// Candidates: [mag, colour, mag error, colour error, limit flag]
const lightTop = [
  [24.23,1.96,0.115,0.46,1],[24.33,2.04,0.115,0.45,1],[24.97,1.88,0.14,0.46,0],[24.90,1.64,0.20,0.47,1],
  [25.00,1.32,0.13,0.47,0],[25.41,1.26,0.22,0.49,1],[25.50,1.25,0.22,0.49,1],[25.67,0.98,0.25,0.49,0],
  [25.79,1.37,0.22,0.48,1],[25.87,1.21,0.25,0.49,1],[25.97,1.12,0.22,0.49,1],[26.06,1.25,0.25,0.49,1],
  [25.94,0.63,0.25,0.50,0],[26.06,0.76,0.25,0.50,0],[26.11,0.73,0.25,0.50,1],[26.31,0.80,0.25,0.50,1],
  [26.41,0.99,0.22,0.50,1],[26.40,0.70,0.25,0.50,0],[26.08,1.02,0.25,0.50,0],[26.00,0.90,0.25,0.50,0]
];
const darkTop = [
  [24.99,2.14,0.14,0.46,1],[25.15,1.89,0.13,0.45,1],[25.27,1.10,0.20,0.49,0],[25.60,1.23,0.22,0.49,1],
  [25.85,1.37,0.22,0.48,1],[25.92,0.77,0.25,0.50,0],[25.96,0.97,0.25,0.50,0],[26.04,1.14,0.25,0.50,1],
  [26.05,0.85,0.25,0.50,0],[26.18,0.92,0.25,0.50,1],[26.28,0.67,0.25,0.50,0],[26.43,0.79,0.25,0.50,1],
  [26.49,0.79,0.25,0.50,0],[26.51,0.91,0.25,0.50,1],[26.61,0.50,0.25,0.52,0]
];
const lightBot = [
  [24.23,-1.36,0.115,0.45,1],[24.33,-1.44,0.115,0.45,1],[24.91,-1.04,0.20,0.46,1],[25.00,-0.93,0.13,0.46,0],
  [24.97,-1.28,0.14,0.46,1],[25.41,-0.66,0.22,0.49,1],[25.50,-0.65,0.22,0.49,1],[25.67,-0.37,0.25,0.49,0],
  [25.80,-0.77,0.22,0.48,1],[25.87,-0.15,0.25,0.49,0],[26.06,-0.64,0.25,0.49,1],[26.03,-0.06,0.25,0.50,0],
  [26.10,0.10,0.25,0.50,0],[26.31,0.12,0.25,0.50,0],[26.40,-0.09,0.25,0.50,0],[26.41,-0.39,0.22,0.50,1],
  [25.97,-0.30,0.25,0.50,0],[26.08,-0.45,0.25,0.50,1],[25.94,-0.20,0.25,0.50,0],[26.11,-0.15,0.25,0.50,0]
];
const darkBot = [
  [24.99,-1.55,0.14,0.45,1],[25.15,-1.30,0.13,0.44,1],[25.27,-0.56,0.20,0.49,1],[25.60,-0.63,0.22,0.49,1],
  [25.85,-0.77,0.22,0.48,1],[25.92,-0.61,0.25,0.50,1],[25.96,-0.37,0.25,0.50,0],[26.04,-0.54,0.25,0.50,1],
  [26.05,-0.26,0.25,0.50,0],[26.18,-0.32,0.25,0.50,0],[26.28,-0.07,0.25,0.50,0],[26.43,0.12,0.25,0.50,0],
  [26.49,-0.20,0.25,0.50,0],[26.51,0.33,0.25,0.50,0],[26.61,0.78,0.45,0.38,0]
];

// Reference curves sampled on a magnitude grid
const magGrid = [21.5, 22.0, 22.5, 23.0, 23.5, 24.0, 24.5, 25.0, 25.5, 26.0, 26.68];
const medianTop = [-0.15, -0.12, -0.10, -0.07, -0.045, -0.02, 0.0, 0.03, 0.05, 0.08, 0.11];
const upperTop = [-0.12, -0.095, -0.065, -0.025, 0.03, 0.11, 0.19, 0.28, 0.38, 0.49, 0.67];
const lowerTop = [-0.17, -0.155, -0.145, -0.14, -0.15, -0.17, -0.20, -0.24, -0.29, -0.345, -0.445];
const medianBot = [-0.21, -0.23, -0.25, -0.27, -0.29, -0.31, -0.33, -0.355, -0.38, -0.40, -0.41];
const upperBot = [-0.17, -0.19, -0.195, -0.18, -0.14, -0.08, -0.02, 0.06, 0.17, 0.30, 0.55];
const lowerBot = [-0.24, -0.27, -0.31, -0.37, -0.44, -0.53, -0.66, -0.80, -0.95, -1.11, -1.40];

// Selection cuts
const cutTop = 0.6, cutBot = 0.4;
const limitTop = [[24.25, 3.0], [26.68, 0.57]];
const limitBot = [[23.66, -3.0], [26.2, -0.46]];

// Axis ticks
const xMajor = [22, 23, 24, 25, 26];
const yMajorTop = [-1, 0, 1, 2, 3];
const yMajorBot = [-3, -2, -1, 0, 1];

const width = 2400, height = 2850;
const frame = {left: 393, right: 2282, top: 125, mid: 1361, bottom: 2601};
const font = '"Liberation Serif", "Times New Roman", Times, serif';
const fontSize = 88;
const lightBlue = '#5fa2fb', darkBlue = '#0000f0', magenta = '#dd00ee', navy = '#10107f';

const svg = d3.select('#chart')
    .append('svg')
    .attr('width', width)
    .attr('height', height)
    .style('background', '#fff');

const x = d3.scaleLinear().domain([21.5, 26.68]).range([frame.left, frame.right]);
const yTop = d3.scaleLinear().domain([-1.9, 3]).range([frame.mid, frame.top]);
const yBot = d3.scaleLinear().domain([-3, 1.9]).range([frame.bottom, frame.mid]);

// clip paths for the two panels
const defs = svg.append('defs');
defs.append('clipPath').attr('id', 'clipTop').append('rect')
    .attr('x', frame.left).attr('y', frame.top)
    .attr('width', frame.right - frame.left).attr('height', frame.mid - frame.top);
defs.append('clipPath').attr('id', 'clipBot').append('rect')
    .attr('x', frame.left).attr('y', frame.mid)
    .attr('width', frame.right - frame.left).attr('height', frame.bottom - frame.mid);

const allField = field.concat(fieldCore, fieldUpper);

function drawPanel(clipId, y, col, median, upper, lower, cut, limit, light, dark, dir) {
    const g = svg.append('g').attr('clip-path', `url(#${clipId})`);

    // field galaxies
    g.append('g').selectAll('circle')
        .data(allField)
        .join('circle')
        .attr('cx', d => x(d[0]))
        .attr('cy', d => y(d[col]))
        .attr('r', 3.7)
        .attr('fill', '#000');

    const line = d3.line().x(d => x(d[0])).y(d => y(d[1]));
    const curve = d3.line().x(d => x(d[0])).y(d => y(d[1])).curve(d3.curveNatural);

    // horizontal colour cut
    g.append('path')
        .attr('d', line([[21.5, cut], [26.68, cut]]))
        .attr('fill', 'none').attr('stroke', '#000')
        .attr('stroke-width', 9).attr('stroke-dasharray', '25,22');

    // magnitude limit
    g.append('path')
        .attr('d', line(limit))
        .attr('fill', 'none').attr('stroke', '#000')
        .attr('stroke-width', 9).attr('stroke-dasharray', '25,22');

    // running median
    g.append('path')
        .attr('d', curve(magGrid.map((m, i) => [m, median[i]])))
        .attr('fill', 'none').attr('stroke', '#000')
        .attr('stroke-width', 10).attr('stroke-dasharray', '24,23');

    // scatter envelope
    [upper, lower].forEach(arr => {
        g.append('path')
            .attr('d', curve(magGrid.map((m, i) => [m, arr[i]])))
            .attr('fill', 'none').attr('stroke', magenta)
            .attr('stroke-width', 8);
    });

    // candidates
    [[light, lightBlue, 16], [dark, darkBlue, 22.5]].forEach(([list, color, r]) => {
        const s = g.append('g');
        list.forEach(d => {
            const cx = x(d[0]), cy = y(d[1]);
            s.append('line')
                .attr('x1', x(d[0] - d[2])).attr('x2', x(d[0] + d[2]))
                .attr('y1', cy).attr('y2', cy)
                .attr('stroke', color).attr('stroke-width', 4.5);
            s.append('line')
                .attr('x1', cx).attr('x2', cx)
                .attr('y1', y(d[1] - d[3])).attr('y2', y(d[1] + d[3]))
                .attr('stroke', color).attr('stroke-width', 4.5);
        });
        list.filter(d => d[4]).forEach(d => {
            const cx = x(d[0]), cy = y(d[1]);
            const tip = cy - dir * 78;
            s.append('path')
                .attr('d', `M${cx},${cy}L${cx},${tip}M${cx - 19},${tip + dir * 23}L${cx},${tip}L${cx + 19},${tip + dir * 23}`)
                .attr('fill', 'none').attr('stroke', navy).attr('stroke-width', 1.8);
        });
        s.selectAll('circle')
            .data(list)
            .join('circle')
            .attr('cx', d => x(d[0]))
            .attr('cy', d => y(d[1]))
            .attr('r', r)
            .attr('fill', color);
    });
}

drawPanel('clipTop', yTop, 1, medianTop, upperTop, lowerTop, cutTop, limitTop, lightTop, darkTop, 1);
drawPanel('clipBot', yBot, 2, medianBot, upperBot, lowerBot, cutBot, limitBot, lightBot, darkBot, -1);

// axes
const xMinor = d3.range(216, 267).map(v => v / 10).filter(v => !xMajor.includes(v));
const yMinorTop = d3.range(-18, 30).map(v => v / 10).filter(v => !yMajorTop.includes(v));
const yMinorBot = d3.range(-29, 19).map(v => v / 10).filter(v => !yMajorBot.includes(v));

function addAxis(gen, scale, tx, ty, values, len, labels, pad) {
    const axis = gen(scale)
        .tickValues(values)
        .tickSizeInner(len)
        .tickSizeOuter(0)
        .tickPadding(pad || 0)
        .tickFormat(labels ? d => String(d) : '');
    const g = svg.append('g')
        .attr('transform', `translate(${tx},${ty})`)
        .call(axis);
    g.select('.domain').remove();
    g.selectAll('.tick line').attr('stroke', '#000').attr('stroke-width', 7);
    g.attr('font-family', font).attr('font-size', fontSize);
    g.selectAll('.tick text').attr('fill', '#000');
    return g;
}

// x ticks: top of top panel, divider (both sides), bottom
addAxis(d3.axisTop, x, 0, frame.top, xMajor, -24);
addAxis(d3.axisTop, x, 0, frame.top, xMinor, -12);
addAxis(d3.axisBottom, x, 0, frame.mid, xMajor, -24);
addAxis(d3.axisBottom, x, 0, frame.mid, xMinor, -12);
addAxis(d3.axisTop, x, 0, frame.mid, xMajor, -24);
addAxis(d3.axisTop, x, 0, frame.mid, xMinor, -12);
addAxis(d3.axisBottom, x, 0, frame.bottom, xMajor, -24, true, 52);
addAxis(d3.axisBottom, x, 0, frame.bottom, xMinor, -12);

// y ticks
const yLabTop = addAxis(d3.axisLeft, yTop, frame.left, 0, yMajorTop, -37, true, 28);
addAxis(d3.axisLeft, yTop, frame.left, 0, yMinorTop, -19);
addAxis(d3.axisRight, yTop, frame.right, 0, yMajorTop, -37);
addAxis(d3.axisRight, yTop, frame.right, 0, yMinorTop, -19);
const yLabBot = addAxis(d3.axisLeft, yBot, frame.left, 0, yMajorBot, -37, true, 28);
addAxis(d3.axisLeft, yBot, frame.left, 0, yMinorBot, -19);
addAxis(d3.axisRight, yBot, frame.right, 0, yMajorBot, -37);
addAxis(d3.axisRight, yBot, frame.right, 0, yMinorBot, -19);

// end labels are nudged inside the range
yLabTop.selectAll('.tick text').filter(d => d === 3).attr('dy', '0.57em');
yLabBot.selectAll('.tick text').filter(d => d === -3).attr('dy', '0.04em');

// frames
[[frame.top, frame.mid], [frame.mid, frame.bottom]].forEach(([t, b]) => {
    svg.append('rect')
        .attr('x', frame.left).attr('y', t)
        .attr('width', frame.right - frame.left).attr('height', b - t)
        .attr('fill', 'none').attr('stroke', '#000').attr('stroke-width', 10);
});

// titles
svg.append('text')
    .attr('x', (frame.left + frame.right) / 2)
    .attr('y', 2808)
    .attr('text-anchor', 'middle')
    .attr('font-family', font).attr('font-size', fontSize)
    .text('F913 AB Magnitude');

svg.append('text')
    .attr('transform', `translate(233,${(frame.top + frame.mid) / 2}) rotate(-90)`)
    .attr('text-anchor', 'middle')
    .attr('font-family', font).attr('font-size', fontSize)
    .text('F883 - F913');

svg.append('text')
    .attr('transform', `translate(233,${(frame.mid + frame.bottom) / 2}) rotate(-90)`)
    .attr('text-anchor', 'middle')
    .attr('font-family', font).attr('font-size', fontSize)
    .text('F913 - F941');
</script>
</body>
</html>
